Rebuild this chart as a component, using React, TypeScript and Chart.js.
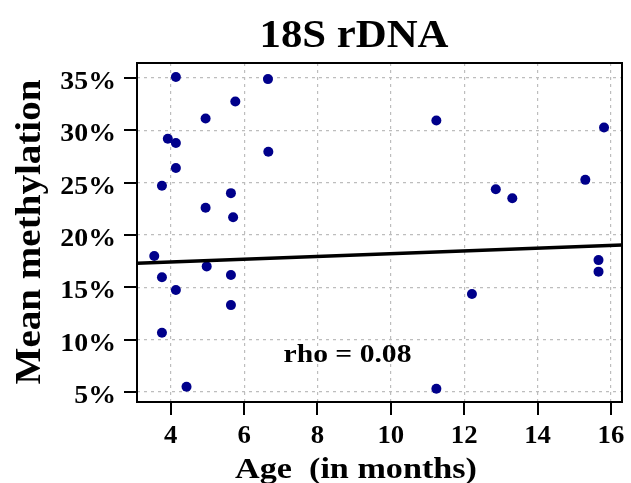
import React, { useEffect, useRef } from "react";
import { Chart, registerables } from "chart.js";

Chart.register(...registerables);

const ages = [4.14, 6.65, 5.76, 4.95, 3.92, 4.14, 6.66, 4.14, 3.76, 5.64, 4.95, 5.70, 3.55, 3.76, 4.98, 5.64, 4.14, 5.64, 3.76, 4.43, 11.24, 15.81, 15.30, 12.86, 13.31, 15.66, 15.66, 12.21, 11.24];
const methylation = [35.1, 34.9, 32.76, 31.13, 29.2, 28.8, 27.95, 26.4, 24.7, 24.0, 22.6, 21.7, 18.0, 15.96, 17.0, 16.18, 14.74, 13.3, 10.66, 5.49, 30.94, 30.27, 25.27, 24.38, 23.52, 17.6, 16.5, 14.36, 5.3];
const fitX = [3.08, 16.3];
const fitY = [17.3, 19.05];
const xTicks = [4, 6, 8, 10, 12, 14, 16];
const yTicks = [5, 10, 15, 20, 25, 30, 35];
const titleText = "18S rDNA";
const xTitle = "Age  (in months)";
const yTitle = "Mean methylation";
const rhoText = "rho = 0.08";

const FONT = '"Liberation Serif", Tinos, "Times New Roman", Times, serif';
const SX = 1.07;

const fontSet: any = typeof document !== "undefined" ? (document as any).fonts : null;
const fontPromise: Promise<any> =
  fontSet && fontSet.load
    ? Promise.all([
        fontSet.load(`bold 30px "Liberation Serif"`),
        fontSet.load(`30px "Liberation Serif"`),
      ])
    : Promise.resolve();

function drawText(
  ctx: CanvasRenderingContext2D,
  text: string,
  x: number,
  y: number,
  size: number,
  align: CanvasTextAlign,
  stretch: number,
  rotate = 0
) {
  ctx.save();
  ctx.font = `bold ${size}px ${FONT}`;
  ctx.fillStyle = "#000";
  ctx.textAlign = align;
  ctx.textBaseline = "alphabetic";
  ctx.translate(x, y);
  if (rotate) ctx.rotate(rotate);
  ctx.scale(stretch, 1);
  ctx.fillText(text, 0, 0);
  ctx.restore();
}

function stretchTo(ctx: CanvasRenderingContext2D, text: string, size: number, target: number) {
  ctx.save();
  ctx.font = `bold ${size}px ${FONT}`;
  const w = ctx.measureText(text).width;
  ctx.restore();
  return target / w;
}

const decorPlugin = {
  id: "decor",
  afterDraw(chart: any) {
    const ctx: CanvasRenderingContext2D = chart.ctx;
    const a = chart.chartArea;
    const xs = chart.scales.x;
    const ys = chart.scales.y;
    const L = Math.round(a.left), R = Math.round(a.right), T = Math.round(a.top), B = Math.round(a.bottom);
    ctx.save();
    ctx.fillStyle = "#000";
    ctx.fillRect(L - 1, T - 1, R - L + 2, 2);
    ctx.fillRect(L - 1, B - 1, R - L + 2, 2);
    ctx.fillRect(L - 1, T - 1, 2, B - T + 2);
    ctx.fillRect(R - 1, T - 1, 2, B - T + 2);
    for (let i = 0; i < xTicks.length; i++) {
      const px = Math.round(xs.getPixelForValue(xTicks[i]));
      ctx.fillRect(px - 1, B, 2, 13);
    }
    for (let i = 0; i < yTicks.length; i++) {
      const py = Math.round(ys.getPixelForValue(yTicks[i]));
      ctx.fillRect(L - 13, py - 1, 13, 2);
    }
    ctx.restore();
    xTicks.forEach((v) => {
      drawText(ctx, String(v), xs.getPixelForValue(v), 443, 25, "center", SX);
    });
    yTicks.forEach((v) => {
      drawText(ctx, v + "%", 116, ys.getPixelForValue(v) + 11, 26, "right", SX);
    });
    drawText(ctx, titleText, 354, 47, 40, "center", stretchTo(ctx, titleText, 40, 189));
    drawText(ctx, xTitle, 356, 478, 29, "center", stretchTo(ctx, xTitle, 29, 242));
    drawText(ctx, yTitle, 40, 232, 36, "center", stretchTo(ctx, yTitle, 36, 305), -Math.PI / 2);
    drawText(ctx, rhoText, 347.5, 361.5, 25, "center", stretchTo(ctx, rhoText, 25, 128));
  },
};

const gridOpts = {
  color: "#bdbdbd",
  lineWidth: 1.2,
  drawTicks: false,
};

export default function App() {
  const ref = useRef<HTMLCanvasElement | null>(null);
  useEffect(() => {
    if (!ref.current) return;
    const chart = new Chart(ref.current, {
      type: "scatter",
      data: {
        datasets: [
          {
            type: "line",
            data: fitX.map((x, i) => ({ x, y: fitY[i] })),
            borderColor: "#000",
            borderWidth: 3.5,
            pointRadius: 0,
            fill: false,
            order: 0,
          } as any,
          {
            type: "scatter",
            data: ages.map((x, i) => ({ x, y: methylation[i] })),
            backgroundColor: "#00008B",
            borderWidth: 0,
            pointRadius: 5,
            order: 1,
          },
        ],
      },
      options: {
        responsive: false,
        animation: false,
        devicePixelRatio: 1,
        layout: { padding: { left: 0, top: 63, right: 9, bottom: 0 } },
        plugins: {
          legend: { display: false },
          tooltip: { enabled: false },
          title: { display: false },
        },
        scales: {
          x: {
            type: "linear",
            min: 3.08,
            max: 16.3,
            afterBuildTicks: (s: any) => {
              s.ticks = xTicks.map((v) => ({ value: v }));
            },
            afterFit: (s: any) => {
              s.height = 81;
            },
            ticks: { display: false },
            border: { display: false, dash: [3, 4] },
            grid: gridOpts,
          },
          y: {
            type: "linear",
            min: 4.04,
            max: 36.44,
            afterBuildTicks: (s: any) => {
              s.ticks = yTicks.map((v) => ({ value: v }));
            },
            afterFit: (s: any) => {
              s.width = 137;
            },
            ticks: { display: false },
            border: { display: false, dash: [3, 4] },
            grid: gridOpts,
          },
        },
      },
      plugins: [decorPlugin],
    });
    let alive = true;
    fontPromise.then(() => {
      if (alive) chart.draw();
    });
    return () => {
      alive = false;
      chart.destroy();
    };
  }, []);
  return (
    <div style={{ position: "absolute", left: 0, top: 0, width: 631, height: 483, background: "#fff" }}>
      <span style={{ position: "absolute", left: 0, top: 0, fontFamily: '"Liberation Serif"', fontWeight: "bold", color: "transparent", fontSize: 10 }}>.</span>
      <canvas ref={ref} width={631} height={483} style={{ position: "absolute", left: 0, top: 0 }} />
    </div>
  );
}
